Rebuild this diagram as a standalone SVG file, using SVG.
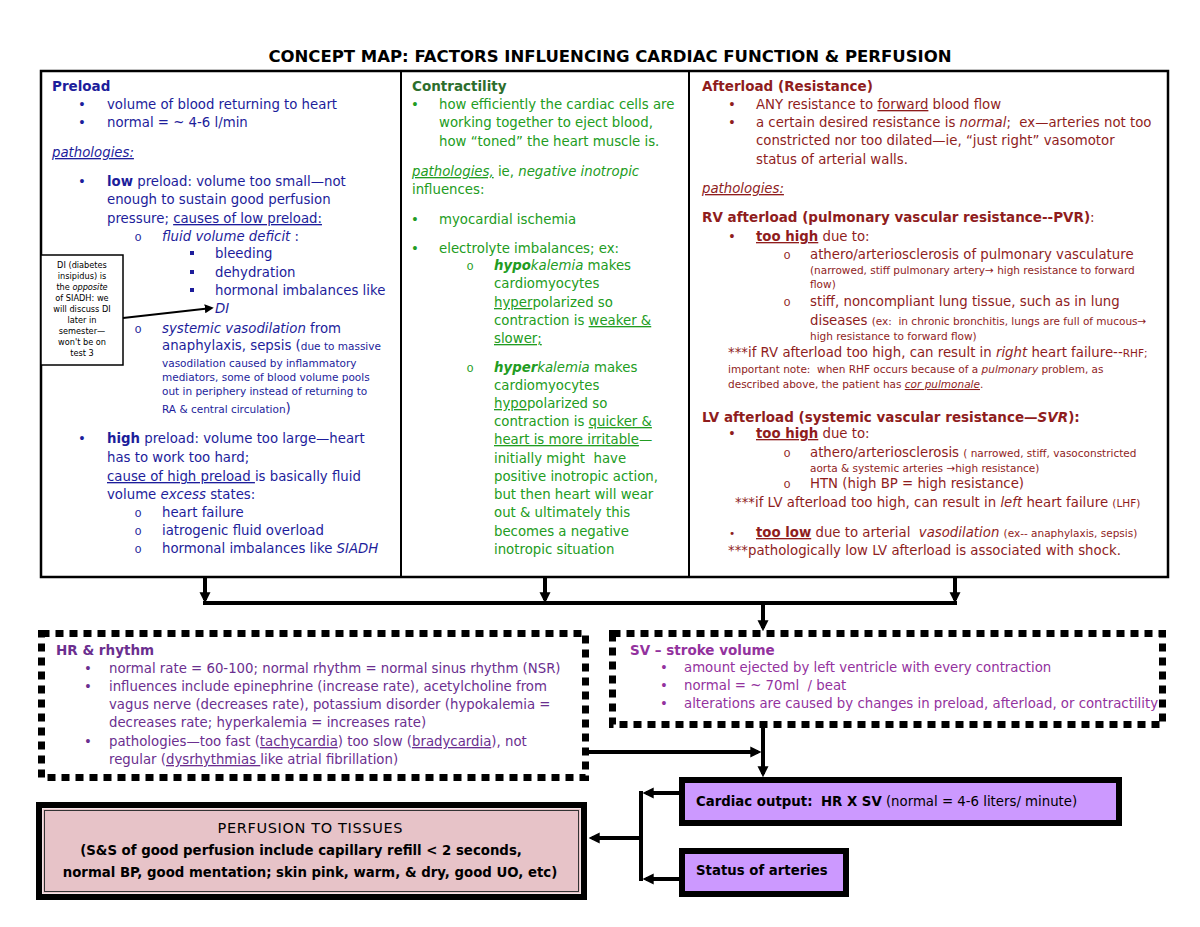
<svg xmlns="http://www.w3.org/2000/svg" width="1200" height="927" viewBox="0 0 1200 927">
<defs>
<style>
text{font-family:"DejaVu Sans",Verdana,sans-serif;font-size:13.3px;}
.t{font-weight:bold;font-size:16.5px;fill:#000;}
.h{font-weight:bold;font-size:13.5px;}
.s{font-size:10.5px;}
.xs{font-size:8.2px;fill:#000;}
.i{font-style:italic;}
.b{font-weight:bold;}
.n{font-weight:normal;}
.u{text-decoration:underline;}
.o{font-family:"Liberation Mono","DejaVu Sans Mono",monospace;font-size:12px;}
.blue{fill:#1d1d9b;}
.green{fill:#229c22;}
.greenh{fill:#2d6e2d;}
.red{fill:#8f1d1d;}
.purple{fill:#6b2f8f;}
.mag{fill:#93329e;}
.blk{fill:#000;}
.frame{fill:#fff;stroke:#000;stroke-width:2.5;}
.div{stroke:#000;stroke-width:2;}
.dot{fill:#fff;stroke:#000;stroke-width:7;stroke-dasharray:8 6;}
.lav{fill:#cc99ff;stroke:#000;stroke-width:6;}
.con{stroke:#000;stroke-width:4;fill:none;}
</style>
<marker id="ah" viewBox="0 0 10 10" markerUnits="userSpaceOnUse" markerWidth="11" markerHeight="13" refX="7" refY="5" orient="auto">
<path d="M0,0 L10,5 L0,10 z" fill="#000"/>
</marker>
<marker id="ahs" viewBox="0 0 10 10" markerUnits="userSpaceOnUse" markerWidth="9" markerHeight="9" refX="8" refY="5" orient="auto">
<path d="M0,0 L10,5 L0,10 z" fill="#000"/>
</marker>
</defs>
<rect width="1200" height="927" fill="#fff"/>

<g id="title">
<text class="t" x="610" y="62" text-anchor="middle">CONCEPT MAP: FACTORS INFLUENCING CARDIAC FUNCTION &amp; PERFUSION</text>
</g>

<g id="main-frame">
<rect class="frame" x="41" y="71" width="1127" height="506"/>
<line class="div" x1="401" y1="71" x2="401" y2="577"/>
<line class="div" x1="689" y1="71" x2="689" y2="577"/>
</g>

<g id="panel-preload" class="blue">
<text class="h blue" x="52" y="91">Preload</text>
<text class="blue" x="82" y="109" text-anchor="middle">•</text>
<text class="blue" x="82" y="127" text-anchor="middle">•</text>
<text class="blue" x="107" y="109">volume of blood returning to heart</text>
<text class="blue" x="107" y="127">normal = ~ 4-6 l/min</text>
<text class="blue" x="52" y="157"><tspan class="i u">pathologies:</tspan></text>
<text class="blue" x="82" y="186" text-anchor="middle">•</text>
<text class="blue" x="107" y="186"><tspan class="b">low</tspan> preload: volume too small—not</text>
<text class="blue" x="107" y="204">enough to sustain good perfusion</text>
<text class="blue" x="107" y="223">pressure; <tspan class="u">causes of low preload:</tspan></text>
<text class="o blue" x="138" y="241" text-anchor="middle">o</text>
<text class="blue" x="162" y="241"><tspan class="i">fluid volume deficit</tspan> :</text>
<rect class="blue" x="190" y="251" width="4" height="4"/>
<rect class="blue" x="190" y="270" width="4" height="4"/>
<rect class="blue" x="190" y="288" width="4" height="4"/>
<text class="blue" x="215" y="258">bleeding</text>
<text class="blue" x="215" y="277">dehydration</text>
<text class="blue" x="215" y="295">hormonal imbalances like</text>
<text class="blue i" x="215" y="313">DI</text>
<text class="o blue" x="138" y="333" text-anchor="middle">o</text>
<text class="blue" x="162" y="333"><tspan class="i">systemic vasodilation</tspan> from</text>
<text class="blue" x="162" y="350">anaphylaxis, sepsis (<tspan class="s">due to massive</tspan></text>
<text class="blue s" x="162" y="367">vasodilation caused by inflammatory</text>
<text class="blue s" x="162" y="381">mediators, some of blood volume pools</text>
<text class="blue s" x="162" y="395">out in periphery instead of returning to</text>
<text class="blue s" x="162" y="413">RA &amp; central circulation<tspan style="font-size:13.3px">)</tspan></text>
<text class="blue" x="82" y="443" text-anchor="middle">•</text>
<text class="blue" x="107" y="443"><tspan class="b">high</tspan> preload: volume too large—heart</text>
<text class="blue" x="107" y="462">has to work too hard;</text>
<text class="blue" x="107" y="481"><tspan class="u">cause of high preload </tspan>is basically fluid</text>
<text class="blue" x="107" y="499">volume <tspan class="i">excess</tspan> states:</text>
<text class="o blue" x="138" y="517" text-anchor="middle">o</text>
<text class="o blue" x="138" y="535" text-anchor="middle">o</text>
<text class="o blue" x="138" y="553" text-anchor="middle">o</text>
<text class="blue" x="162" y="517">heart failure</text>
<text class="blue" x="162" y="535">iatrogenic fluid overload</text>
<text class="blue" x="162" y="553">hormonal imbalances like <tspan class="i">SIADH</tspan></text>
</g>

<g id="note-di">
<rect x="41" y="255" width="82" height="110" fill="#fff" stroke="#000" stroke-width="1.5"/>
<text class="xs" x="82" y="268" text-anchor="middle">DI (diabetes</text>
<text class="xs" x="82" y="279" text-anchor="middle">insipidus) is</text>
<text class="xs" x="82" y="290" text-anchor="middle">the <tspan class="i">opposite</tspan></text>
<text class="xs" x="82" y="301" text-anchor="middle">of SIADH: we</text>
<text class="xs" x="82" y="312" text-anchor="middle">will discuss DI</text>
<text class="xs" x="82" y="323" text-anchor="middle">later in</text>
<text class="xs" x="82" y="334" text-anchor="middle">semester—</text>
<text class="xs" x="82" y="345" text-anchor="middle">won't be on</text>
<text class="xs" x="82" y="356" text-anchor="middle">test 3</text>
</g>

<g id="panel-contractility">
<text class="h greenh" x="412" y="91">Contractility</text>
<text class="green" x="415" y="109" text-anchor="middle">•</text>
<text class="green" x="439" y="109">how efficiently the cardiac cells are</text>
<text class="green" x="439" y="127">working together to eject blood,</text>
<text class="green" x="439" y="146">how “toned” the heart muscle is.</text>
<text class="green" x="412" y="176"><tspan class="i u">pathologies,</tspan> ie, <tspan class="i">negative inotropic</tspan></text>
<text class="green" x="412" y="194">influences:</text>
<text class="green" x="415" y="224" text-anchor="middle">•</text>
<text class="green" x="439" y="224">myocardial ischemia</text>
<text class="green" x="415" y="253" text-anchor="middle">•</text>
<text class="green" x="439" y="253">electrolyte imbalances; ex:</text>
<text class="o green" x="470" y="270" text-anchor="middle">o</text>
<text class="green" x="494" y="270"><tspan class="b i">hypo</tspan><tspan class="i">kalemia</tspan> makes</text>
<text class="green" x="494" y="288">cardiomyocytes</text>
<text class="green" x="494" y="307"><tspan class="u">hyper</tspan>polarized so</text>
<text class="green" x="494" y="325">contraction is <tspan class="u">weaker &amp;</tspan></text>
<text class="green" x="494" y="343"><tspan class="u">slower;</tspan></text>
<text class="o green" x="470" y="372" text-anchor="middle">o</text>
<text class="green" x="494" y="372"><tspan class="b i">hyper</tspan><tspan class="i">kalemia</tspan> makes</text>
<text class="green" x="494" y="390">cardiomyocytes</text>
<text class="green" x="494" y="408"><tspan class="u">hypo</tspan>polarized so</text>
<text class="green" x="494" y="426">contraction is <tspan class="u">quicker &amp;</tspan></text>
<text class="green" x="494" y="444"><tspan class="u">heart is more irritable</tspan>—</text>
<text class="green" x="494" y="463">initially might&#160; have</text>
<text class="green" x="494" y="481">positive inotropic action,</text>
<text class="green" x="494" y="499">but then heart will wear</text>
<text class="green" x="494" y="517">out &amp; ultimately this</text>
<text class="green" x="494" y="536">becomes a negative</text>
<text class="green" x="494" y="554">inotropic situation</text>
</g>

<g id="panel-afterload">
<text class="h red" x="702" y="91">Afterload (Resistance)</text>
<text class="red" x="732" y="109" text-anchor="middle">•</text>
<text class="red" x="732" y="127" text-anchor="middle">•</text>
<text class="red" x="756" y="109">ANY resistance to <tspan class="u">forward</tspan> blood flow</text>
<text class="red" x="756" y="127">a certain desired resistance is <tspan class="i">normal</tspan>;&#160; ex—arteries not too</text>
<text class="red" x="756" y="145">constricted nor too dilated—ie, “just right” vasomotor</text>
<text class="red" x="756" y="164">status of arterial walls.</text>
<text class="red" x="702" y="193"><tspan class="i u">pathologies:</tspan></text>
<text class="h red" x="702" y="222">RV afterload (pulmonary vascular resistance--PVR)<tspan class="n">:</tspan></text>
<text class="red" x="732" y="241" text-anchor="middle">•</text>
<text class="red" x="756" y="241"><tspan class="b u">too high</tspan> due to:</text>
<text class="o red" x="787" y="259" text-anchor="middle">o</text>
<text class="red" x="810" y="259">athero/arteriosclerosis of pulmonary vasculature</text>
<text class="red s" x="810" y="274">(narrowed, stiff pulmonary artery→ high resistance to forward</text>
<text class="red s" x="810" y="288">flow)</text>
<text class="o red" x="787" y="306" text-anchor="middle">o</text>
<text class="red" x="810" y="306">stiff, noncompliant lung tissue, such as in lung</text>
<text class="red" x="810" y="325">diseases <tspan class="s">(ex:&#160; in chronic bronchitis, lungs are full of mucous→</tspan></text>
<text class="red s" x="810" y="340">high resistance to forward flow)</text>
<text class="red" x="728" y="357">***if RV afterload too high, can result in <tspan class="i">right</tspan> heart failure--<tspan class="s">RHF;</tspan></text>
<text class="red s" x="728" y="373">important note:&#160; when RHF occurs because of a <tspan class="i">pulmonary</tspan> problem, as</text>
<text class="red s" x="728" y="388">described above, the patient has <tspan class="i u">cor pulmonale</tspan>.</text>
<text class="h red" x="702" y="422">LV afterload (systemic vascular resistance—<tspan class="i">SVR</tspan>):</text>
<text class="red" x="732" y="438" text-anchor="middle">•</text>
<text class="red" x="756" y="438"><tspan class="b u">too high</tspan> due to:</text>
<text class="o red" x="787" y="457" text-anchor="middle">o</text>
<text class="red" x="810" y="457">athero/arteriosclerosis <tspan class="s">( narrowed, stiff, vasoconstricted</tspan></text>
<text class="red s" x="810" y="472">aorta &amp; systemic arteries →high resistance)</text>
<text class="o red" x="787" y="488" text-anchor="middle">o</text>
<text class="red" x="810" y="488">HTN (high BP = high resistance)</text>
<text class="red" x="735" y="507">***if LV afterload too high, can result in <tspan class="i">left</tspan> heart failure <tspan class="s">(LHF)</tspan></text>
<text class="red s" x="732" y="537" text-anchor="middle">•</text>
<text class="red" x="756" y="537"><tspan class="b u">too low</tspan> due to arterial&#160; <tspan class="i">vasodilation</tspan> <tspan class="s">(ex-- anaphylaxis, sepsis)</tspan></text>
<text class="red" x="728" y="555">***pathologically low LV afterload is associated with shock.</text>
</g>

<g id="node-hr">
<rect class="dot" x="41.5" y="633.5" width="544" height="144"/>
<text class="h purple" x="56" y="655">HR &amp; rhythm</text>
<text class="purple" x="88" y="673" text-anchor="middle">•</text>
<text class="purple" x="88" y="691" text-anchor="middle">•</text>
<text class="purple" x="88" y="746" text-anchor="middle">•</text>
<text class="purple" x="109" y="673">normal rate = 60-100; normal rhythm = normal sinus rhythm (NSR)</text>
<text class="purple" x="109" y="691">influences include epinephrine (increase rate), acetylcholine from</text>
<text class="purple" x="109" y="709">vagus nerve (decreases rate), potassium disorder (hypokalemia =</text>
<text class="purple" x="109" y="727">decreases rate; hyperkalemia = increases rate)</text>
<text class="purple" x="109" y="746">pathologies—too fast (<tspan class="u">tachycardia</tspan>) too slow (<tspan class="u">bradycardia</tspan>), not</text>
<text class="purple" x="109" y="764">regular (<tspan class="u">dysrhythmias </tspan>like atrial fibrillation)</text>
</g>

<g id="node-sv">
<rect class="dot" x="612.5" y="633.5" width="550" height="91"/>
<text class="h mag" x="630" y="655">SV – stroke volume</text>
<text class="mag" x="664" y="672" text-anchor="middle">•</text>
<text class="mag" x="664" y="690" text-anchor="middle">•</text>
<text class="mag" x="664" y="708" text-anchor="middle">•</text>
<text class="mag" x="684" y="672">amount ejected by left ventricle with every contraction</text>
<text class="mag" x="684" y="690">normal = ~ 70ml&#160; / beat</text>
<text class="mag" x="684" y="708">alterations are caused by changes in preload, afterload, or contractility</text>
</g>

<g id="node-co">
<rect class="lav" x="682" y="780" width="437" height="43"/>
<text class="blk" x="696" y="806"><tspan class="b">Cardiac output:</tspan>&#160; <tspan class="b">HR X SV</tspan> (normal = 4-6 liters/ minute)</text>
</g>

<g id="node-arteries">
<rect class="lav" x="682" y="851" width="164" height="43"/>
<text class="blk b" x="696" y="875">Status of arteries</text>
</g>

<g id="node-perfusion">
<rect x="36" y="802" width="551" height="98" fill="#000"/>
<rect x="42.5" y="808.5" width="538" height="85" fill="#e7c3c8" stroke="#f3e4e6" stroke-width="1"/>
<rect x="44.5" y="810.5" width="534" height="81" fill="none" stroke="#333" stroke-width="1"/>
<text class="blk" x="310" y="833" text-anchor="middle" style="font-size:14.5px" textLength="185" lengthAdjust="spacing">PERFUSION TO TISSUES</text>
<text class="blk b" x="301" y="855" text-anchor="middle">(S&amp;S of good perfusion include capillary refill &lt; 2 seconds,</text>
<text class="blk b" x="310" y="877" text-anchor="middle">normal BP, good mentation; skin pink, warm, &amp; dry, good UO, etc)</text>
</g>

<g id="connectors">
<line class="con" x1="205" y1="577" x2="205" y2="600" marker-end="url(#ah)"/>
<line class="con" x1="545" y1="577" x2="545" y2="600" marker-end="url(#ah)"/>
<line class="con" x1="955" y1="577" x2="955" y2="600" marker-end="url(#ah)"/>
<line class="con" x1="203" y1="603" x2="957" y2="603"/>
<line class="con" x1="763" y1="603" x2="763" y2="628" marker-end="url(#ah)"/>
<line class="con" x1="763" y1="728" x2="763" y2="774" marker-end="url(#ah)"/>
<line class="con" x1="589" y1="752" x2="758" y2="752" marker-end="url(#ah)"/>
<line class="con" x1="641" y1="791" x2="641" y2="881"/>
<line class="con" x1="679" y1="793" x2="646" y2="793" marker-end="url(#ah)"/>
<line class="con" x1="679" y1="879" x2="646" y2="879" marker-end="url(#ah)"/>
<line class="con" x1="641" y1="838" x2="592" y2="838" marker-end="url(#ah)"/>
<line x1="123" y1="318" x2="212" y2="308" stroke="#000" stroke-width="2" marker-end="url(#ahs)"/>
</g>
</svg>
